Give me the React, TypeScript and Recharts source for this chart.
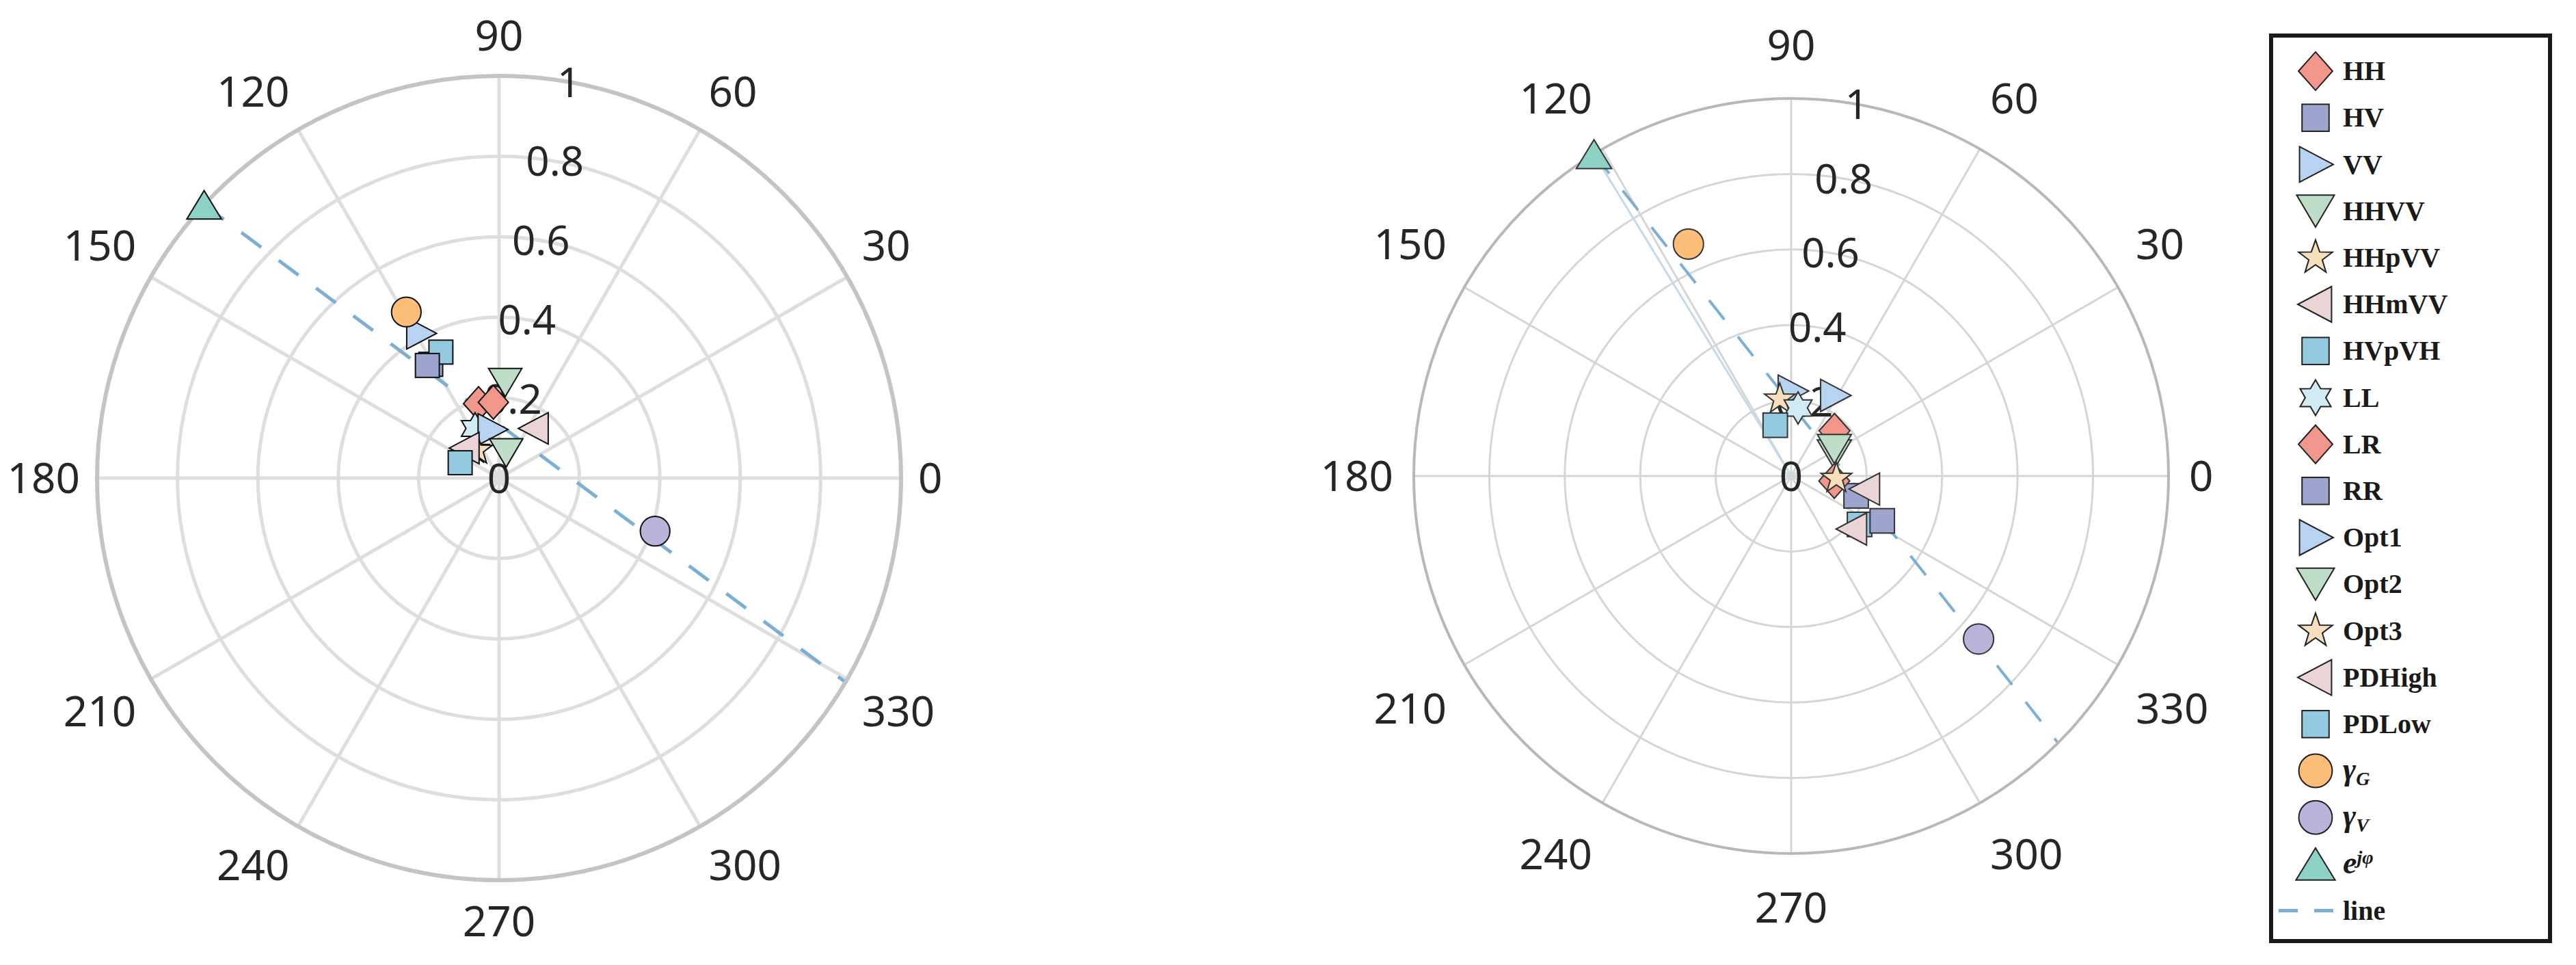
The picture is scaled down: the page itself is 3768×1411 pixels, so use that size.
import React from "react";
import {
  RadarChart,
  Radar,
  PolarGrid,
  PolarAngleAxis,
  PolarRadiusAxis,
  Legend,
} from "recharts";

// series order = legend order = drawing order
const seriesNames = [
  "HH", "HV", "VV", "HHVV", "HHpVV", "HHmVV", "HVpVH", "LL", "LR", "RR",
  "Opt1", "Opt2", "Opt3", "PDHigh", "PDLow", "γG", "γV", "ejφ",
];
const seriesShapes = [
  "diamond", "square", "right", "down", "star5", "left", "square", "hexagram", "diamond", "square",
  "right", "down", "star5", "left", "square", "circle", "circle", "up",
];
const seriesColors = [
  "#F0968A", "#9DA5CF", "#B8D2F1", "#BEDDC6", "#F5DFBD", "#EBD4D6", "#94CAE0", "#D0EBF3", "#F0968A", "#9DA5CF",
  "#B8D2F1", "#BEDDC6", "#F5DFBD", "#EBD4D6", "#94CAE0", "#FDBE79", "#BAB3DA", "#8ED2C5",
];
const lineColor = "#7BAFD4";

// left panel: angle (deg) and magnitude per series
const leftAngles = [105.4, 121, 118.4, 86.3, 131, 54.8, 114.8, 115.8, 94.3, 122.5, 98, 74.3, 128, 138.7, 158.5, 119.2, 341.2, 137.2];
const leftRadii = [0.192, 0.33, 0.409, 0.238, 0.095, 0.151, 0.345, 0.137, 0.189, 0.332, 0.122, 0.065, 0.088, 0.113, 0.104, 0.473, 0.41, 1.0];
const leftLineAngles = [137.2, 329.5];
const leftLineRadii = [1, 1];
const leftPhaseAngles: number[] = [];
const leftPhaseRadii: number[] = [];

// right panel
const rightAngles = [46.2, 343, 89, 26.6, 98.4, 350, 324.7, 84.2, 353.4, 333.8, 61.4, 32, 357, 319, 107.4, 113.9, 319, 121.5];
const rightRadii = [0.166, 0.18, 0.225, 0.128, 0.206, 0.199, 0.222, 0.181, 0.115, 0.269, 0.243, 0.135, 0.12, 0.214, 0.141, 0.672, 0.658, 1.0];
const rightLineAngles = [121.5, 315];
const rightLineRadii = [1, 1];
const rightPhaseAngles = [121.5, 121.5];
const rightPhaseRadii = [0, 1];

const angleTicks = [0, 30, 60, 90, 120, 150, 180, 210, 240, 270, 300, 330];
const radiusTicks = [0, 0.2, 0.4, 0.6, 0.8, 1];

const axisFont = "'Noto Sans', 'Open Sans', sans-serif";
const legendFont = "'Liberation Serif', 'DejaVu Serif', serif";

function Marker({ shape, x, y, s, fill, stroke, sw }: any) {
  const common = { fill, stroke, strokeWidth: sw, strokeLinejoin: "miter" as const };
  const poly = (pts: number[][]) => <polygon points={pts.map((p) => p.join(",")).join(" ")} {...common} />;
  switch (shape) {
    case "diamond":
      return poly([[x, y - 0.54 * s], [x + 0.48 * s, y], [x, y + 0.54 * s], [x - 0.48 * s, y]]);
    case "square": {
      const h = 0.38 * s;
      return <rect x={x - h} y={y - h} width={2 * h} height={2 * h} {...common} />;
    }
    case "right":
      return poly([[x - 0.45 * s, y - 0.5 * s], [x + 0.5 * s, y], [x - 0.45 * s, y + 0.5 * s]]);
    case "left":
      return poly([[x + 0.45 * s, y - 0.5 * s], [x - 0.5 * s, y], [x + 0.45 * s, y + 0.5 * s]]);
    case "down":
      return poly([[x - 0.53 * s, y - 0.45 * s], [x + 0.53 * s, y - 0.45 * s], [x, y + 0.45 * s]]);
    case "up":
      return poly([[x - 0.55 * s, y + 0.45 * s], [x + 0.55 * s, y + 0.45 * s], [x, y - 0.45 * s]]);
    case "circle":
      return <circle cx={x} cy={y} r={0.47 * s} {...common} />;
    case "star5": {
      const pts: number[][] = [];
      for (let k = 0; k < 10; k++) {
        const rr = k % 2 === 0 ? 0.5 * s : 0.2 * s;
        const a = -Math.PI / 2 + (k * Math.PI) / 5;
        pts.push([x + rr * Math.cos(a), y + rr * Math.sin(a)]);
      }
      return poly(pts);
    }
    case "hexagram": {
      const pts: number[][] = [];
      for (let k = 0; k < 12; k++) {
        const rr = k % 2 === 0 ? 0.5 * s : 0.29 * s;
        const a = -Math.PI / 2 + (k * Math.PI) / 6;
        pts.push([x + rr * Math.cos(a), y + rr * Math.sin(a)]);
      }
      return poly(pts);
    }
    default:
      return null;
  }
}

const rowOf = (p: any) => (p && p.payload && typeof p.payload === "object" && "angle" in p.payload ? p.payload : p);

const makeDot = (i: number, s: number, stroke: string, sw: number) => (props: any) => {
  const { cx, cy, index } = props;
  const row = rowOf(props.payload);
  const v = row ? row[`s${i}`] : undefined;
  if (v == null || !Number.isFinite(cx) || !Number.isFinite(cy)) return <g key={`d-${i}-${index}`} />;
  return (
    <g key={`d-${i}-${index}`}>
      <Marker shape={seriesShapes[i]} x={cx} y={cy} s={s} fill={seriesColors[i]} stroke={stroke} sw={sw} />
    </g>
  );
};

// straight segment through the points of one key only
const makeSegmentShape = (key: string, color: string, w: number, dash?: string) => (props: any) => {
  const pts = (props.points || []).filter((p: any) => {
    const row = rowOf(p);
    return row && row[key] != null && Number.isFinite(p.x) && Number.isFinite(p.y);
  });
  if (pts.length < 2) return <g />;
  const d = pts.map((p: any, k: number) => `${k === 0 ? "M" : "L"}${p.x},${p.y}`).join("");
  return <path d={d} fill="none" stroke={color} strokeWidth={w} strokeDasharray={dash} />;
};

const makeAngleTick = (cx: number, cy: number, R: number, fs: number, extraV: number, gap: number) => (props: any) => {
  const v = props.payload.value;
  const a = (v * Math.PI) / 180;
  const label = String(v);
  const halfW = label.length * 0.286 * fs;
  const halfH = 0.36 * fs + extraV;
  const c = Math.cos(a);
  const s = Math.sin(a);
  const sgn = (t: number) => (Math.abs(t) < 1e-6 ? 0 : Math.sign(t));
  const Rc = R + gap;
  const x = cx + Rc * c + sgn(c) * halfW;
  const y = cy - (Rc * s + sgn(s) * halfH);
  return (
    <text x={x} y={y} dy={0.36 * fs} textAnchor="middle" fontSize={fs} fontFamily={axisFont} fill="#262626">
      {label}
    </text>
  );
};

const makeRadiusTick = (fs: number) => (props: any) => {
  const { x, y, payload } = props;
  const label = String(Number(Number(payload.value).toFixed(1)));
  return (
    <text x={x} y={y} dy={0.36 * fs} textAnchor="middle" fontSize={fs} fontFamily={axisFont} fill="#262626">
      {label}
    </text>
  );
};

function LegendLabel({ name, x, y }: any) {
  const fs = 40;
  const base = { x, y, dy: 0.33 * fs, fontSize: fs, fontFamily: legendFont, fontWeight: 700, fill: "#1a1a1a" };
  if (name.startsWith("γ")) {
    return (
      <text {...base}>
        <tspan fontStyle="italic" fontSize={46}>γ</tspan>
        <tspan fontStyle="italic" fontSize={28} dy={8}>{name.slice(1)}</tspan>
      </text>
    );
  }
  if (name === "ejφ") {
    return (
      <text {...base}>
        <tspan fontStyle="italic" fontSize={46}>e</tspan>
        <tspan fontStyle="italic" fontSize={28} dy={-14}>jφ</tspan>
      </text>
    );
  }
  return <text {...base}>{name}</text>;
}

function LegendBox() {
  const W = 414;
  const H = 1330;
  const B = 6;
  const first = 55 - B;
  const step = 68.2;
  const mx = 68 - B;
  const tx = 108 - B;
  const lineY = first + 18 * step;
  return (
    <div style={{ width: W, height: H, boxSizing: "border-box", border: `${B}px solid #1a1a1a`, background: "#fff" }}>
      <svg width={W - 2 * B} height={H - 2 * B} style={{ display: "block" }}>
        {seriesNames.map((n, i) => {
          const y = first + i * step;
          return (
            <g key={n}>
              <Marker shape={seriesShapes[i]} x={mx} y={y} s={52} fill={seriesColors[i]} stroke="#222" sw={2} />
              <LegendLabel name={n} x={tx} y={y} />
            </g>
          );
        })}
        <line x1={14 - B} x2={94 - B} y1={lineY} y2={lineY} stroke={lineColor} strokeWidth={5}
          strokeDasharray="28 24" />
        <LegendLabel name="line" x={tx} y={lineY} />
      </svg>
    </div>
  );
}

function PolarPanel({ angles, radii, lineAngles, lineRadii, phaseAngles, phaseRadii, width, cx, cy, R, gridW, gridColor,
  outerW, outerColor, markerSize, markerStroke, lineW, labelV, labelGap, withLegend }: any) {
  const data = [
    ...seriesNames.map((_, i) => ({ angle: angles[i], [`s${i}`]: radii[i] })),
    ...lineAngles.map((a: number, j: number) => ({ angle: a, line: lineRadii[j] })),
    ...phaseAngles.map((a: number, j: number) => ({ angle: a, phase: phaseRadii[j] })),
  ];
  return (
    <RadarChart width={width} height={1411} data={data} cx={cx} cy={cy} outerRadius={R}
      startAngle={0} endAngle={360} margin={{ top: 0, right: 0, bottom: 0, left: 0 }}>
      <PolarGrid gridType="circle" stroke={gridColor} strokeWidth={gridW} />
      <PolarAngleAxis dataKey="angle" type="number" domain={[0, 360]} ticks={angleTicks} tickCount={13}
        tickLine={false} axisLineType="circle" axisLine={{ stroke: outerColor, strokeWidth: outerW }}
        tick={makeAngleTick(cx, cy, R, 62, labelV, labelGap)} />
      <PolarRadiusAxis angle={80} type="number" domain={[0, 1]} ticks={radiusTicks} tickCount={6}
        axisLine={false} tickLine={false} tick={makeRadiusTick(60)} />
      {phaseAngles.length > 0 && (
        <Radar name="phase" dataKey="phase" stroke="#C3DAEB" fill="none" isAnimationActive={false} dot={false}
          legendType="none" shape={makeSegmentShape("phase", "#C3DAEB", 3)} />
      )}
      {seriesNames.map((n, i) => (
        <Radar key={n} name={n} dataKey={`s${i}`} stroke="none" fill="none" isAnimationActive={false}
          dot={makeDot(i, markerSize, markerStroke, 2)} />
      ))}
      <Radar name="line" dataKey="line" stroke={lineColor} fill="none" isAnimationActive={false} dot={false}
        shape={makeSegmentShape("line", lineColor, lineW, "36 32")} />
      {withLegend && (
        <Legend layout="vertical" align="right" verticalAlign="middle"
          wrapperStyle={{ left: 3319 - 1880, top: 49 }} content={() => <LegendBox />} />
      )}
    </RadarChart>
  );
}

export default function App() {
  return (
    <div style={{ position: "absolute", left: 0, top: 0, width: 3768, height: 1411, overflow: "hidden", background: "#fff" }}>
      <div style={{ position: "absolute", left: 0, top: 0 }}>
        <PolarPanel angles={leftAngles} radii={leftRadii} lineAngles={leftLineAngles} lineRadii={leftLineRadii}
          phaseAngles={leftPhaseAngles} phaseRadii={leftPhaseRadii}
          width={1460} cx={730} cy={699} R={588} gridW={5} gridColor="#dedede" outerW={6} outerColor="#c4c4c4"
          markerSize={46} markerStroke="#111" lineW={5} labelV={12} labelGap={25} withLegend={false} />
      </div>
      <div style={{ position: "absolute", left: 1880, top: 0 }}>
        <PolarPanel angles={rightAngles} radii={rightRadii} lineAngles={rightLineAngles} lineRadii={rightLineRadii}
          phaseAngles={rightPhaseAngles} phaseRadii={rightPhaseRadii}
          width={1888} cx={740} cy={696} R={552} gridW={3} gridColor="#d6d6d6" outerW={4} outerColor="#b8b8b8"
          markerSize={47} markerStroke="#333" lineW={4} labelV={26} labelGap={30} withLegend={true} />
      </div>
    </div>
  );
}
